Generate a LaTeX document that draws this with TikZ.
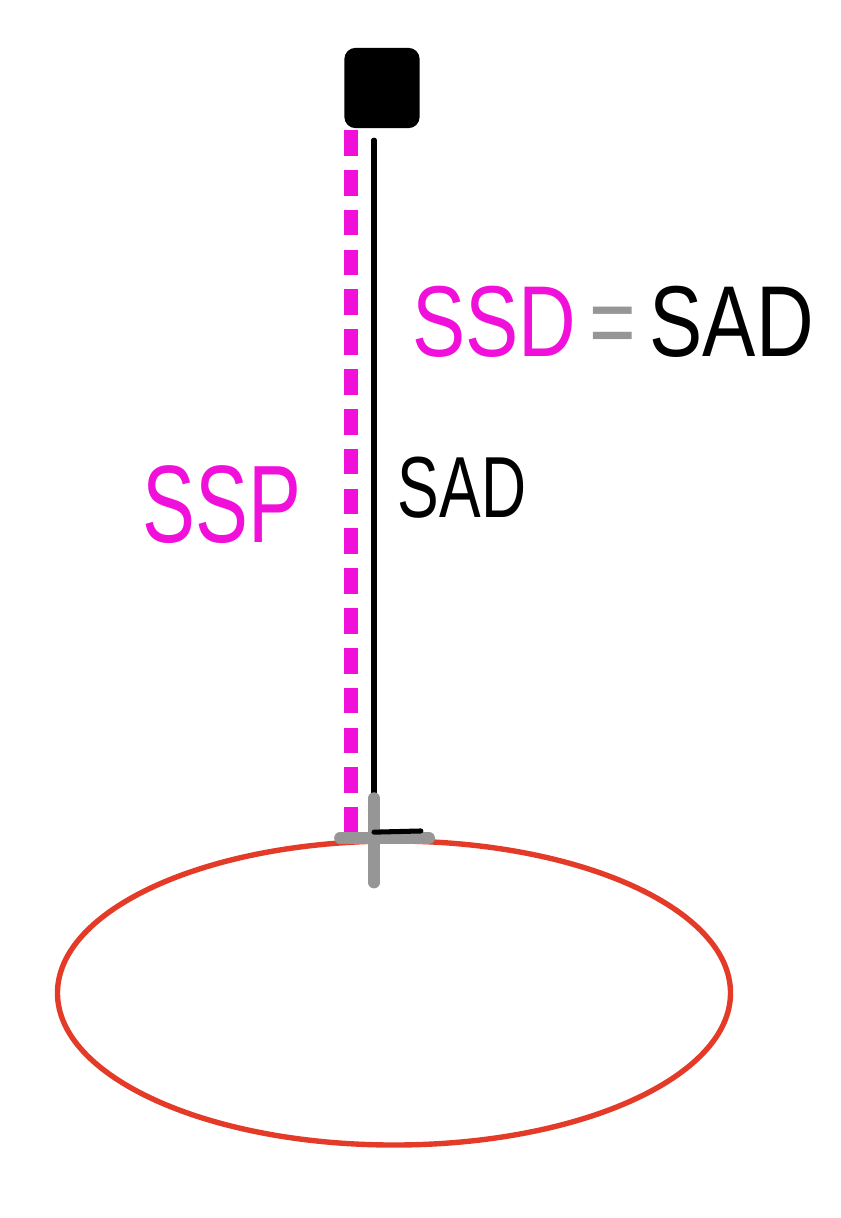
\documentclass[tikz,border=0pt]{standalone}
\usepackage{fontspec}
\setmainfont{Liberation Sans}
\usepackage{xcolor}
\usetikzlibrary{positioning,shapes.geometric}
\definecolor{ssdpink}{RGB}{240,16,218}
\definecolor{markgray}{RGB}{150,150,150}
\definecolor{fieldred}{RGB}{228,58,40}

\begin{document}
\begin{tikzpicture}[x=0.03cm,y=-0.03cm,
    source/.style={fill=black,draw=black,line width=3pt,rounded corners=8pt,
      minimum width=2.15cm,minimum height=2.3cm,inner sep=0pt},
    ssdline/.style={ssdpink,line width=12pt,dash pattern=on 22pt off 12pt},
    sadline/.style={black,line width=4.3pt,line cap=round},
    crossmark/.style={markgray,line width=10pt,line cap=round},
    handlabel/.style={inner sep=0pt,xscale=0.72}]
  \useasboundingbox (0,0) rectangle (841,1218);

  % source head and isocentre
  \node[source] (head) at (382,88) {};
  \coordinate (iso) at (374,838);
  \coordinate (ssdtop) at (351,130);
  \coordinate (ssdbot) at (351,840);

  % patient outline
  \node[draw=fieldred,line width=4.6pt,ellipse,minimum width=20.19cm,
    minimum height=9.12cm,inner sep=0pt] (field) at (394,993) {};

  % distances
  \draw[ssdline] (ssdtop) -- (ssdbot);
  \draw[sadline] (head.south -| iso) ++(0,12) -- (iso);

  % isocentre cross
  \draw[crossmark] ([xshift=-29]iso) -- ([xshift=47]iso);
  \draw[crossmark] ([yshift=-38]iso) -- ([yshift=34]iso);
  \draw[sadline] ([yshift=5]iso) -- ([xshift=40,yshift=6]iso);

  % labels
  \node[handlabel,font=\fontsize{86}{86}\selectfont,xscale=1.1] (eq) at (613,322)
    {{\color{ssdpink}SSD}\,{\color{markgray}=}\,SAD};
  \node[handlabel,font=\fontsize{94}{94}\selectfont,text=ssdpink] (ssp) at (222,505) {SSP};
  \node[handlabel,font=\fontsize{74}{74}\selectfont] (sad) at (462,488) {SAD};
\end{tikzpicture}
\end{document}
